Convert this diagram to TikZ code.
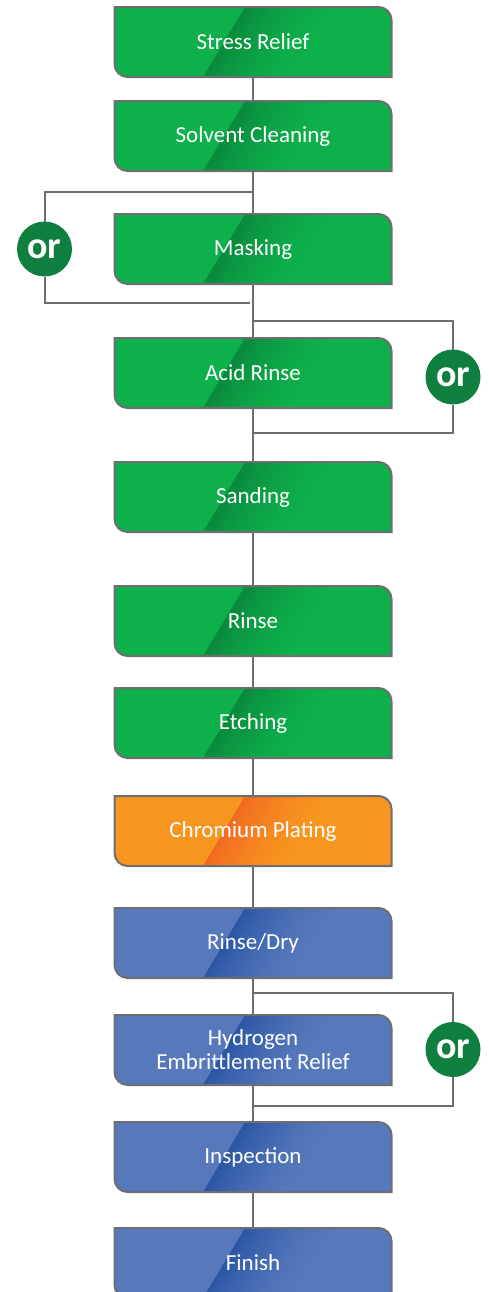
\documentclass[tikz,border=0pt]{standalone}
\usepackage{fontspec}
\setmainfont{Carlito}
\usetikzlibrary{positioning, calc, backgrounds}

\definecolor{greenFill}{HTML}{0DB04B}
\definecolor{greenDark}{HTML}{0A8A3D}
\definecolor{orangeFill}{HTML}{F7961E}
\definecolor{orangeDark}{HTML}{F26A22}
\definecolor{blueFill}{HTML}{5778BB}
\definecolor{blueDark}{HTML}{2B56A5}
\definecolor{orGreen}{HTML}{0E7F3F}
\definecolor{lineGray}{HTML}{6D6E71}

\begin{document}
\begin{tikzpicture}[
    node distance=12pt,
    stepbox/.style={minimum width=138.5pt, minimum height=35pt, inner sep=0pt, outer sep=0pt, text=white, align=center, font=\fontsize{11.5}{12}\selectfont},
    boxpath/.style={insert path={(#1.north west) -- ([xshift=-6.5pt]#1.north east) arc[start angle=90, end angle=0, radius=6.5pt] -- (#1.south east) -- ([xshift=6.5pt]#1.south west) arc[start angle=270, end angle=180, radius=6.5pt] -- cycle}},
    edge/.style={draw=lineGray, line width=1pt},
    conn/.style={draw=lineGray, line width=1pt},
    orc/.style={circle, fill=orGreen, minimum size=27.5pt, inner sep=0pt, outer sep=0pt, text=white, font=\fontsize{19}{19}\selectfont\bfseries},
]
\useasboundingbox (0,0) rectangle (244pt,-646pt);

% === STEPS ===
\node[stepbox] (stress) at (126.5pt,-21pt) {Stress Relief};
\node[stepbox, below=12pt of stress] (solvent) {Solvent Cleaning};
\node[stepbox, below=21.5pt of solvent] (masking) {Masking};
\node[stepbox, below=27pt of masking] (acid) {Acid Rinse};
\node[stepbox, below=27pt of acid] (sanding) {Sanding};
\node[stepbox, below=27pt of sanding] (rinse) {Rinse};
\node[stepbox, below=16pt of rinse] (etching) {Etching};
\node[stepbox, below=19pt of etching] (chrom) {Chromium Plating};
\node[stepbox, below=21pt of chrom] (rinsedry) {Rinse/Dry};
\node[stepbox, below=18.5pt of rinsedry] (hydrogen) {Hydrogen\\Embrittlement Relief};
\node[stepbox, below=18.5pt of hydrogen] (inspection) {Inspection};
\node[stepbox, below=18pt of inspection] (finish) {Finish};

% === BOX SHAPES ===
\begin{scope}[on background layer]
\foreach \n/\kind in {stress/green, solvent/green, masking/green, acid/green, sanding/green, rinse/green, etching/green, chrom/orange, rinsedry/blue, hydrogen/blue, inspection/blue, finish/blue} {
  \begin{scope}
    \clip[boxpath=\n];
    \fill[\kind Fill] (\n.south west) rectangle (\n.north east);
    % diagonal band, fading to the right
    \foreach \k [evaluate=\k as \p using int(100*(1-\k/30)^1.6)] in {0,...,29}
      \fill[\kind Dark!\p!\kind Fill] ($(\n.south)+(-25pt+1.5pt*\k,0)$) -- ($(\n.north)+(-4pt+1.5pt*\k,0)$) -- ($(\n.north)+(-2.3pt+1.5pt*\k,0)$) -- ($(\n.south)+(-23.3pt+1.5pt*\k,0)$) -- cycle;
  \end{scope}
  \draw[edge, boxpath=\n];
}
\end{scope}

% === TRUNK ===
\draw[conn] (stress) -- (solvent);
\draw[conn] (solvent) -- (masking);
\draw[conn] (masking) -- (acid);
\draw[conn] (acid) -- (sanding);
\draw[conn] (sanding) -- (rinse);
\draw[conn] (rinse) -- (etching);
\draw[conn] (etching) -- (chrom);
\draw[conn] (chrom) -- (rinsedry);
\draw[conn] (rinsedry) -- (hydrogen);
\draw[conn] (hydrogen) -- (inspection);
\draw[conn] (inspection) -- (finish);

% === OR BRACKETS ===
\coordinate (l_top) at ($(solvent.south)+(0,-10.5pt)$);
\coordinate (l_bot) at ($(masking.south)+(-1.5pt,-9.5pt)$);
\node[orc] (orL) at ($(masking.west)+(-35pt,0)$) {or};
\draw[conn] (l_top) -| (orL);
\draw[conn] (orL) |- (l_bot);

\coordinate (r1_top) at ($(masking.south)+(0,-18.5pt)$);
\coordinate (r1_bot) at ($(acid.south)+(0,-12.5pt)$);
\node[orc] (orR1) at ($(r1_top)!0.5!(r1_bot)+(100pt,0)$) {or};
\draw[conn] (r1_top) -| (orR1);
\draw[conn] (orR1) |- (r1_bot);

\coordinate (r2_top) at ($(rinsedry.south)+(0,-7.5pt)$);
\coordinate (r2_bot) at ($(hydrogen.south)+(0,-10.5pt)$);
\node[orc] (orR2) at ($(r2_top)!0.5!(r2_bot)+(100pt,0)$) {or};
\draw[conn] (r2_top) -| (orR2);
\draw[conn] (orR2) |- (r2_bot);

\end{tikzpicture}
\end{document}
